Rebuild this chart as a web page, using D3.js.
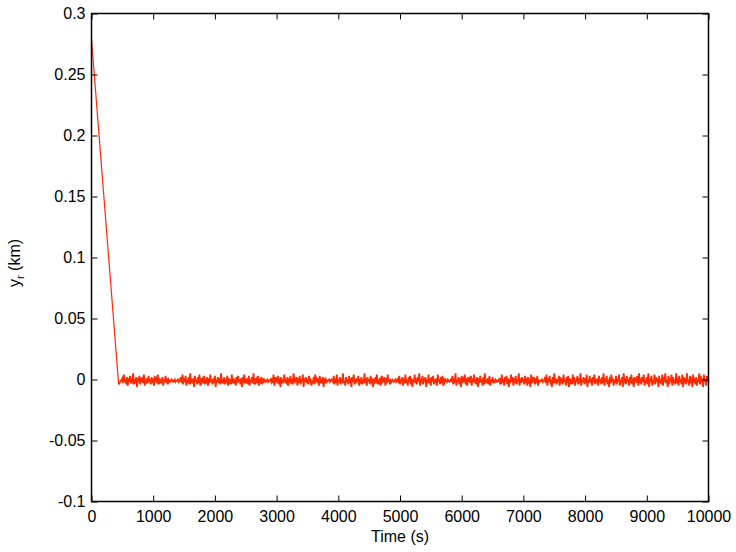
<!DOCTYPE html>
<html><head><meta charset="utf-8">
<script src="https://cdn.jsdelivr.net/npm/d3@7"></script>
<style>body{margin:0;background:#fff}svg{display:block}text{font-family:"Liberation Sans",Arial,Helvetica,sans-serif}</style>
</head><body><svg id="c" width="736" height="552"></svg>
<script>
// Transient (km)
const transientT = [0, 440];
const transientY = [0.279, -0.004];
// Steady-state noisy signal, units of 0.001 km, sampled every 12.5 s from t = 500 s
const noiseStart = 500, noiseStep = 12.5;
const noiseMilli = [
1,-3,4,-2,0,-4,2,-5,1,-2,3,-3,-1,-2,5,-4,0,-3,2,-6,
1,-2,3,-4,0,-1,2,-3,4,-5,-1,-2,1,-3,3,-2,0,-4,2,-3,
1,-5,3,-2,0,-3,4,-4,1,-2,-1,-3,2,-5,0,-2,3,-3,1,-4,
0,-1,-2,-1,0,-1,-2,-1,0,-2,-1,-1,0,-2,-1,0,2,-3,4,-4,
1,-2,3,-5,0,-3,2,-4,5,-2,-1,-3,1,-6,3,-2,0,-4,2,-3,
4,-5,1,-2,0,-3,3,-4,-1,-2,2,-5,1,-3,4,-2,0,-4,1,-3,
3,-6,0,-2,2,-3,1,-4,5,-3,-1,-2,2,-4,0,-3,3,-5,1,-2,
0,-4,4,-3,1,-2,-1,-5,2,-3,3,-2,0,-4,1,-6,2,-3,4,-2,
-1,-3,1,-4,3,-5,0,-2,2,-3,5,-4,1,-2,0,-3,3,-5,-1,-2,
2,-4,1,-3,0,-1,-2,-1,0,-2,-1,-1,0,-2,1,-3,4,-5,2,-2,
0,-3,3,-4,1,-6,2,-2,-1,-3,4,-2,0,-4,2,-5,1,-3,3,-2,
-1,-4,5,-3,0,-2,2,-5,1,-3,3,-4,0,-2,4,-6,1,-2,2,-3,
0,-4,3,-2,1,-5,-1,-3,2,-4,4,-2,0,-3,1,-5,3,-3,-1,-2,
2,-6,1,-3,0,-2,-1,-1,0,-2,-1,0,-1,-2,3,-4,1,-3,4,-5,
0,-2,2,-4,1,-3,5,-3,-1,-5,2,-2,0,-4,3,-3,1,-6,2,-2,
4,-4,0,-3,1,-2,3,-5,-1,-2,2,-4,0,-3,5,-3,1,-5,2,-2,
0,-4,3,-3,1,-6,-1,-2,2,-3,4,-4,0,-2,1,-5,3,-3,0,-2,
2,-5,1,-3,4,-2,0,-4,-1,-2,0,-1,-2,-1,0,-2,-1,1,-3,3,
-4,0,-2,2,-5,1,-3,4,-3,0,-5,2,-2,3,-4,1,-6,0,-2,4,
-3,1,-4,2,-2,5,-5,0,-3,3,-4,1,-2,2,-6,0,-3,4,-3,1,
-5,2,-2,3,-4,0,-3,1,-5,4,-2,0,-4,2,-3,3,-5,1,-2,0,
-1,-2,0,-1,-2,-1,0,-2,3,-4,1,-3,5,-5,0,-2,2,-4,1,-6,
3,-3,0,-2,4,-4,1,-5,2,-2,0,-3,3,-5,1,-2,4,-3,0,-4,
2,-6,1,-3,3,-2,0,-5,2,-4,5,-3,-1,-2,1,-4,3,-5,0,-2,
2,-3,-1,-2,0,-1,-2,-1,0,-2,1,-4,4,-3,0,-5,2,-2,3,-4,
1,-6,0,-3,4,-2,2,-5,1,-3,3,-4,0,-2,5,-5,1,-3,2,-2,
0,-4,3,-3,1,-5,2,-2,-1,-6,4,-3,0,-2,2,-4,1,-3,3,-5,
0,-2,-1,-1,0,-2,-1,-1,2,-3,4,-5,1,-2,3,-4,0,-6,2,-3,
5,-3,1,-4,0,-2,3,-5,2,-3,1,-4,4,-2,0,-5,2,-3,3,-6,
1,-2,0,-4,4,-3,2,-5,0,-2,3,-4,1,-3,5,-5,0,-2,2,-4,
1,-3,4,-6,0,-2,3,-3,1,-5,2,-2,4,-4,0,-3,1,-5,3,-2,
0,-4,2,-3,5,-5,1,-2,3,-4,0,-6,2,-3,4,-2,1,-5,0,-3,
3,-4,1,-2,4,-5,0,-3,2,-6,5,-3,1,-4,3,-2,0,-5,2,-3,
4,-4,1,-6,2,-2,0,-3,3,-5,5,-3,1,-4,2,-2,4,-5,0,-3,
2,-4,5,-6,1,-2,3,-5,0,-3,4,-4,2,-2,1,-6,3,-3,0,-4,
4,-5,2,-2,5,-3,0,-6,3,-4,1,-2,4,-5,2,-3,0,-4,5,-3,
1,-5,3,-2,0,-4,4,-6,2,-3,1,-4,5,-2,0,-5,3,-3,2,-6,
4,-3,1,-4,2,-5,0,-2,5,-4,3,-3,1,-6,4,-2,0,-5,3,-2
];
const xTicks = [0,1000,2000,3000,4000,5000,6000,7000,8000,9000,10000];
const yTicks = [-0.1,-0.05,0,0.05,0.1,0.15,0.2,0.25,0.3];
const yTickLabels = ["-0.1","-0.05","0","0.05","0.1","0.15","0.2","0.25","0.3"];
const xLabel = "Time (s)";

const L=91.5, R=708.5, T=13.5, B=501.5;
const svg = d3.select("#c");
const x = d3.scaleLinear().domain([0,10000]).range([L,R]);
const y = d3.scaleLinear().domain([-0.1,0.3]).range([B,T]);

const transPts = transientT.map((t,i)=>[t, transientY[i]]);
const noisePts = [transPts[transPts.length-1]]
  .concat(noiseMilli.map((v,i)=>[noiseStart+i*noiseStep, v/1000]));
const line = d3.line().x(d=>x(d[0])).y(d=>y(d[1]));

svg.append("path").datum(noisePts)
  .attr("fill","none").attr("stroke","#ff2a00").attr("stroke-width",1.8)
  .attr("stroke-linejoin","miter").attr("d", line);
svg.append("path").datum(transPts)
  .attr("fill","none").attr("stroke","#ff2a00").attr("stroke-width",1.2)
  .attr("d", line);

const tk=6, fs="16px";
const ax = svg.append("g").attr("transform",`translate(0,${B})`)
  .call(d3.axisBottom(x).tickValues(xTicks).tickSizeInner(-tk).tickSizeOuter(0).tickPadding(9).tickFormat(d3.format("d")));
const ay = svg.append("g").attr("transform",`translate(${L},0)`)
  .call(d3.axisLeft(y).tickValues(yTicks).tickSizeInner(-tk).tickSizeOuter(0).tickPadding(6).tickFormat((d,i)=>yTickLabels[i]));
const at = svg.append("g").attr("transform",`translate(0,${T})`)
  .call(d3.axisTop(x).tickValues(xTicks).tickSizeInner(-tk).tickSizeOuter(0).tickFormat(""));
const ar = svg.append("g").attr("transform",`translate(${R},0)`)
  .call(d3.axisRight(y).tickValues(yTicks).tickSizeInner(-tk).tickSizeOuter(0).tickFormat(""));
[ax,ay,at,ar].forEach(g=>{
  g.select(".domain").remove();
  g.selectAll("line").attr("stroke","#000").attr("stroke-width",1);
  g.selectAll("text").attr("font-size",fs).attr("fill","#000").attr("font-family",'"Liberation Sans",Arial,sans-serif');
});
svg.append("rect").attr("x",L).attr("y",T).attr("width",R-L).attr("height",B-T)
  .attr("fill","none").attr("stroke","#000").attr("stroke-width",1.5);

svg.append("text").attr("x",(L+R)/2).attr("y",542).attr("text-anchor","middle")
  .attr("font-size",fs).text(xLabel);
const yl = svg.append("text").attr("transform","translate(20,263) rotate(-90)")
  .attr("text-anchor","middle").attr("font-size",fs);
yl.append("tspan").text("y");
yl.append("tspan").attr("font-size","11px").attr("dy",4).text("r");
yl.append("tspan").attr("dy",-4).text(" (km)");
</script></body></html>
